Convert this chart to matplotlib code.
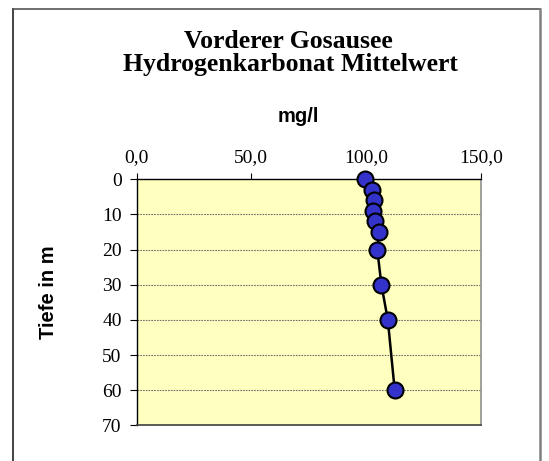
import matplotlib
matplotlib.use("Agg")
import matplotlib.pyplot as plt
from matplotlib.lines import Line2D

# Tiefe (m) und Hydrogenkarbonat-Mittelwert (mg/l)
tiefe = [0, 3, 6, 9, 12, 15, 20, 30, 40, 60]
hco3 = [99.7, 102.7, 103.3, 103.1, 104.1, 105.8, 104.9, 106.7, 109.5, 112.5]

x_ticks = [0, 50, 100, 150]
x_labels = ["0,0", "50,0", "100,0", "150,0"]
y_ticks = [0, 10, 20, 30, 40, 50, 60, 70]

W, H = 549, 461
fig = plt.figure(figsize=(W / 100, H / 100), dpi=100)
fig.patch.set_facecolor("white")

# Axes in pixel coordinates of the reference
left, right, top, bottom = 136.7, 480.7, 179.3, 425.3
ax = fig.add_axes([left / W, 1 - bottom / H, (right - left) / W, (bottom - top) / H])
ax.set_facecolor("#FFFFC0")

ax.plot(hco3, tiefe, color="black", linewidth=1.8, marker="o", markersize=11.5,
        markerfacecolor="#3333CC", markeredgecolor="black", markeredgewidth=1.5,
        zorder=3, clip_on=False)

ax.set_xlim(0, 150)
ax.set_ylim(70, 0)
ax.xaxis.tick_top()
ax.set_xticks(x_ticks)
ax.set_xticklabels(x_labels)
ax.set_yticks(y_ticks)
ax.set_yticklabels([str(v) for v in y_ticks])

for lab in ax.get_xticklabels() + ax.get_yticklabels():
    lab.set_fontfamily("Liberation Serif")
    lab.set_fontsize(14)

ax.tick_params(axis="x", direction="out", length=4.5, width=0.8, pad=5)
ax.tick_params(axis="y", direction="out", length=4.8, width=0.8, pad=6)

for yv in y_ticks[1:-1]:
    ax.axhline(yv, color="#707070", linewidth=0.8, linestyle=(0, (1.5, 1)), zorder=1)

for side in ["top", "left"]:
    ax.spines[side].set_color("black")
    ax.spines[side].set_linewidth(1.0)
ax.spines["right"].set_color("#909090")
ax.spines["right"].set_linewidth(1.2)
ax.spines["bottom"].set_color("#404040")
ax.spines["bottom"].set_linewidth(1.2)

# Titles
fig.text(288 / W, 1 - 48 / H, "Vorderer Gosausee", ha="center", va="baseline",
         fontfamily="Liberation Serif", fontweight="bold", fontsize=18.5)
fig.text(290 / W, 1 - 71 / H, "Hydrogenkarbonat Mittelwert", ha="center", va="baseline",
         fontfamily="Liberation Serif", fontweight="bold", fontsize=18.5)
fig.text(298 / W, 1 - 122 / H, "mg/l", ha="center", va="baseline",
         fontfamily="Liberation Sans", fontweight="bold", fontsize=14.5)
fig.text(48 / W, 1 - 292 / H, "Tiefe in m", ha="center", va="center", rotation=90,
         fontfamily="Liberation Sans", fontweight="bold", fontsize=14.5)

# Outer chart frame
fig.add_artist(Line2D([12.5 / W, 12.5 / W], [0, 1 - 9 / H], transform=fig.transFigure,
                      color="#222222", linewidth=1.2))
fig.add_artist(Line2D([12.5 / W, 540 / W], [1 - 9 / H, 1 - 9 / H], transform=fig.transFigure,
                      color="#555555", linewidth=1.2))
fig.add_artist(Line2D([540 / W, 540 / W], [0, 1 - 9 / H], transform=fig.transFigure,
                      color="#808080", linewidth=1.8))

fig.savefig("out.png", dpi=100)
